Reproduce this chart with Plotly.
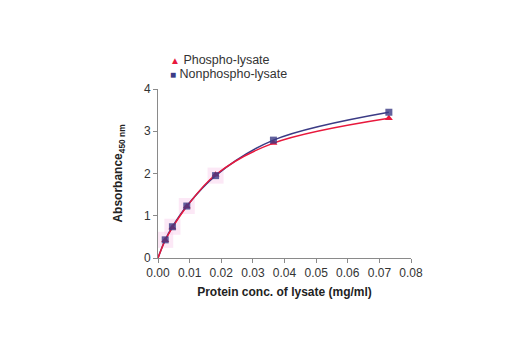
import plotly.graph_objects as go

# Lysate dilution series (mg/ml) and absorbance readings at 450 nm
conc = [0.0, 0.00228, 0.00456, 0.0091, 0.0182, 0.0365, 0.073]
phospho = [0.0, 0.42, 0.72, 1.22, 1.97, 2.72, 3.31]
nonphospho = [0.0, 0.43, 0.74, 1.23, 1.95, 2.79, 3.45]
series_names = ["Phospho-lysate", "Nonphospho-lysate"]

x_ticks = [0.00, 0.01, 0.02, 0.03, 0.04, 0.05, 0.06, 0.07, 0.08]
y_ticks = [0, 1, 2, 3, 4]

RED = "#e8183c"
NAVY = "#3b3b85"
FONT = "Liberation Sans Narrow, Arial Narrow, Liberation Sans, Arial, sans-serif"

L, R, T, B = 157.5, 108.5, 89, 92
W, H = 520, 350
plot_w, plot_h = W - L - R, H - T - B

fig = go.Figure()

# faint pink halo behind the low-concentration points
fig.add_trace(go.Scatter(
    x=conc[1:5], y=nonphospho[1:5], mode="markers",
    marker=dict(symbol="square", size=16, color="rgba(250,210,238,0.5)", line=dict(width=0)),
    showlegend=False, hoverinfo="skip"))

# fitted curves through the measured points
fig.add_trace(go.Scatter(
    x=conc, y=nonphospho, mode="lines", line=dict(color=NAVY, width=1.5, shape="spline"),
    showlegend=False, hoverinfo="skip"))
fig.add_trace(go.Scatter(
    x=conc, y=phospho, mode="lines", line=dict(color=RED, width=1.5, shape="spline"),
    showlegend=False, hoverinfo="skip"))

fig.add_trace(go.Scatter(
    x=conc[1:], y=phospho[1:], mode="markers", name=series_names[0],
    marker=dict(symbol="triangle-up", size=7, color=RED), showlegend=False))
fig.add_trace(go.Scatter(
    x=conc[1:], y=nonphospho[1:], mode="markers", name=series_names[1],
    marker=dict(symbol="square", size=7, color=NAVY, opacity=0.8), showlegend=False))

# compact legend drawn as text lines with coloured glyphs
legend_rows = [(series_names[0], RED, "▲"), (series_names[1], NAVY, "■")]
for i, (name, color, glyph) in enumerate(legend_rows):
    y_px = 60 + i * 14
    fig.add_annotation(
        xref="paper", yref="paper",
        x=(168 - L) / plot_w, y=(H - B - y_px) / plot_h,
        xanchor="left", yanchor="middle", showarrow=False,
        text=f"<span style='color:{color};font-size:10px'>{glyph}</span>&nbsp;{name}",
        font=dict(family=FONT, size=12.5, color="#333333"))

axis_common = dict(
    showgrid=False, zeroline=False, showline=True, linecolor="#8a8a8a", linewidth=1,
    ticks="outside", ticklen=4, tickcolor="#8a8a8a",
    tickfont=dict(family=FONT, size=12, color="#333333"),
)

fig.update_layout(
    width=W, height=H,
    margin=dict(l=L, r=R, t=T, b=B),
    paper_bgcolor="white", plot_bgcolor="white",
    showlegend=False,
    xaxis=dict(range=[0, 0.08], tickvals=x_ticks,
               ticktext=[f"{v:.2f}" for v in x_ticks],
               title=dict(text="<b>Protein conc. of lysate (mg/ml)</b>",
                          font=dict(family=FONT, size=12, color="#222222"), standoff=8),
               **axis_common),
    yaxis=dict(range=[0, 4], tickvals=y_ticks,
               title=dict(text="<b>Absorbance<sub>450 nm</sub></b>",
                          font=dict(family=FONT, size=12, color="#222222"), standoff=18),
               **axis_common),
)

fig.write_html("out.html")
